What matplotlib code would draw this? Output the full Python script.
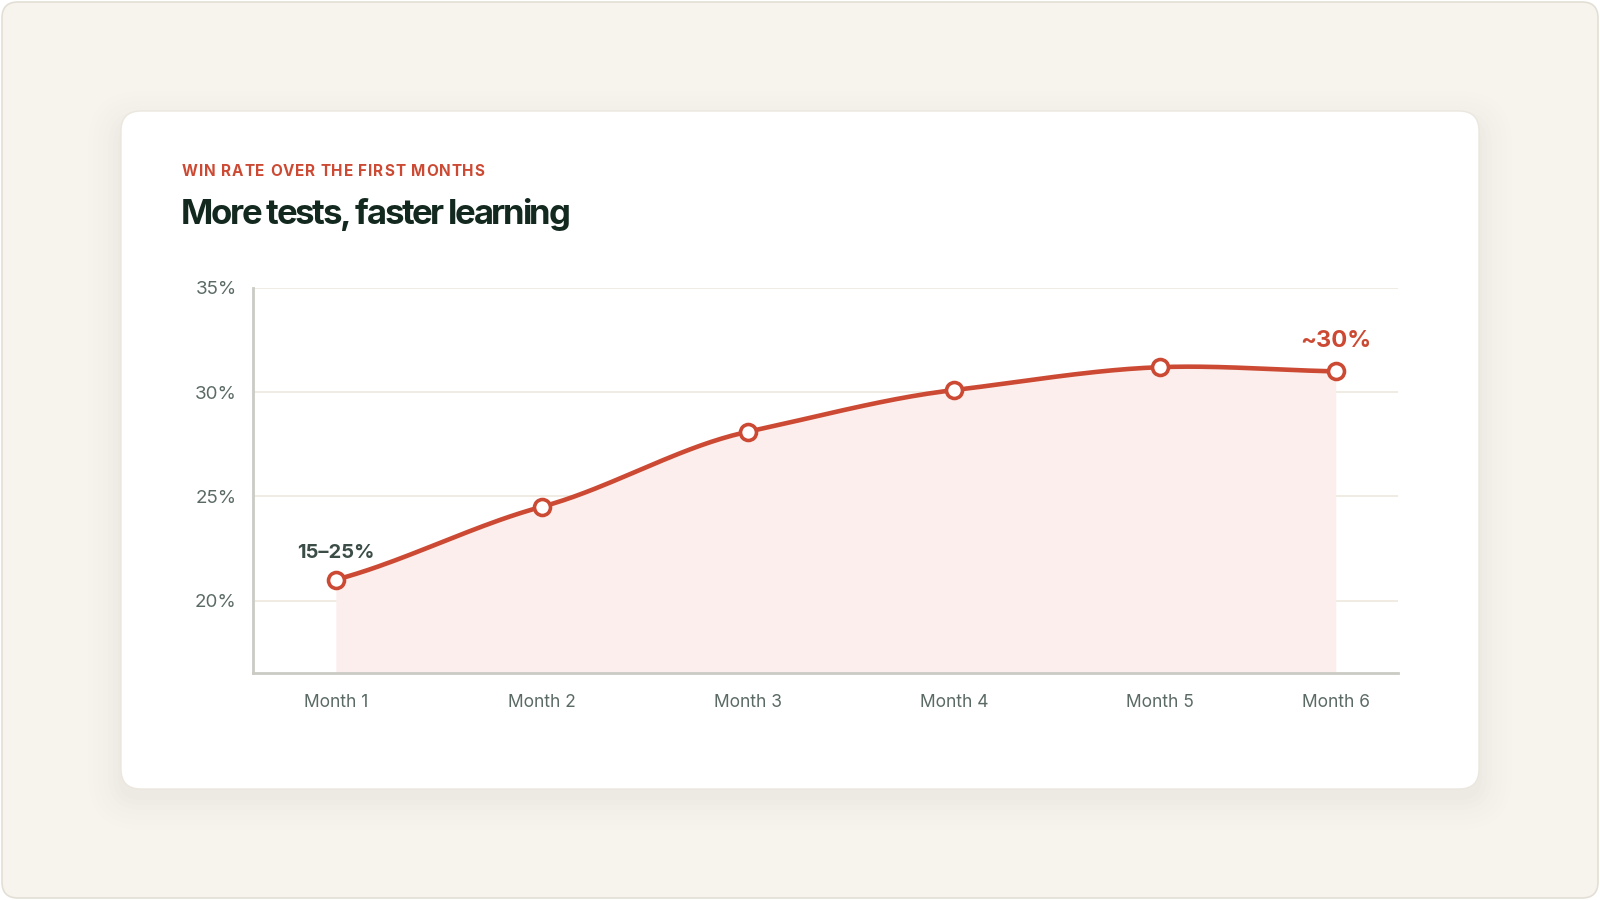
import numpy as np
import matplotlib.pyplot as plt
from matplotlib.patches import FancyBboxPatch

plt.rcParams['font.family'] = ['Inter', 'DejaVu Sans']

months = ["Month 1", "Month 2", "Month 3", "Month 4", "Month 5", "Month 6"]
win_rate = [21.0, 24.5, 28.1, 30.1, 31.2, 31.0]
y_ticks = [20, 25, 30, 35]
start_label = "15–25%"
end_label = "~30%"

RED = "#cc4a33"
DARK = "#13291f"
GREY = "#5b6a64"


def smooth_curve(x, y, c=0.75, n=40):
    # cardinal-style hermite: tangents are a damped average of neighbour slopes
    x = np.asarray(x, float)
    y = np.asarray(y, float)
    h = np.diff(x)
    k = len(x)
    m = np.zeros(k)
    m[0] = c * (y[1] - y[0]) / h[0]
    m[-1] = c * (y[-1] - y[-2]) / h[-1]
    for i in range(1, k - 1):
        m[i] = c * (y[i + 1] - y[i - 1]) / (x[i + 1] - x[i - 1])
    xs, ys = [], []
    t = np.linspace(0, 1, n)
    for i in range(k - 1):
        h00 = 2 * t**3 - 3 * t**2 + 1
        h10 = t**3 - 2 * t**2 + t
        h01 = -2 * t**3 + 3 * t**2
        h11 = t**3 - t**2
        xs.append(x[i] + t * h[i])
        ys.append(h00 * y[i] + h10 * h[i] * m[i] + h01 * y[i + 1] + h11 * h[i] * m[i + 1])
    return np.concatenate(xs), np.concatenate(ys)


def tracked_text(fig, x_px, y_px, s, track_px, **kw):
    # draw text char by char so letter spacing can be set (pixel coords)
    r = fig.canvas.get_renderer()
    sp = fig.text(0, 0, "a a", **kw)
    sp2 = fig.text(0, 0, "aa", **kw)
    space_w = sp.get_window_extent(r).width - sp2.get_window_extent(r).width
    sp.remove()
    sp2.remove()
    x = x_px
    for ch in s:
        t = fig.text(x / 1600, y_px / 900, ch, va="baseline", ha="left", **kw)
        w = space_w if ch == " " else t.get_window_extent(r).width
        x += w + track_px


def main():
    fig = plt.figure(figsize=(16, 9), dpi=100)
    fig.patch.set_facecolor("white")

    # page background with rounded frame
    fig.patches.append(FancyBboxPatch((0.02, 0.02), 15.96, 8.96,
                                      boxstyle="round,pad=0,rounding_size=0.16",
                                      transform=fig.dpi_scale_trans,
                                      facecolor="#f7f4ed", edgecolor="#e3dfd6",
                                      linewidth=1.2, zorder=-5))
    # soft card shadow
    for i, a in enumerate([0.009, 0.007, 0.006, 0.005, 0.004, 0.003, 0.002]):
        g = 0.03 + i * 0.05
        fig.patches.append(FancyBboxPatch((1.21 - g, 1.11 - g - 0.08), 13.58 + 2 * g, 6.78 + 2 * g - 0.05,
                                          boxstyle="round,pad=0,rounding_size=%f" % (0.2 + g),
                                          transform=fig.dpi_scale_trans,
                                          facecolor="#5a4a30", alpha=a, edgecolor="none", zorder=-4))
    fig.patches.append(FancyBboxPatch((1.21, 1.11), 13.58, 6.78,
                                      boxstyle="round,pad=0,rounding_size=0.2",
                                      transform=fig.dpi_scale_trans,
                                      facecolor="white", edgecolor="#ebe7df",
                                      linewidth=1, zorder=-3))

    tracked_text(fig, 182, 900 - 176, "WIN RATE OVER THE FIRST MONTHS", 0.9,
                 color=RED, fontsize=11, fontweight="bold")
    tracked_text(fig, 181, 900 - 224, "More tests, faster learning", -2.3,
                 color=DARK, fontsize=25, fontweight="bold")

    ax = fig.add_axes([0.158, 0.2517, 0.7156, 0.4283])
    ax.set_facecolor("none")
    ax.set_xlim(-0.403, 5.155)
    ax.set_ylim(16.5, 35)

    # layout: x positions of the month ticks (last one sits a bit closer)
    xpos = np.array([0, 1, 2, 3, 4, 4.854])

    cx, cy = smooth_curve(xpos, win_rate)
    ax.fill_between(cx, cy, 16.5, color="#fbeeec", linewidth=0, zorder=1)
    ax.plot(cx, cy, color=RED, linewidth=3.3, zorder=3, solid_capstyle="round")
    ax.plot(xpos, win_rate, linestyle="none", marker="o", markersize=11.5,
            markerfacecolor="white", markeredgecolor=RED, markeredgewidth=2.6, zorder=4)

    ax.annotate(start_label, (xpos[0], win_rate[0]), xytext=(0, 19.5), textcoords="offset points",
                ha="center", va="center", fontsize=14.5, fontweight="bold", color="#3b4d46")
    ax.annotate(end_label, (xpos[-1], win_rate[-1]), xytext=(0, 21.5), textcoords="offset points",
                ha="center", va="center", fontsize=17, fontweight="bold", color=RED)

    ax.set_yticks(y_ticks)
    ax.set_yticklabels([f"{v}%" for v in y_ticks])
    ax.set_xticks(xpos)
    ax.set_xticklabels(months)
    ax.tick_params(axis="both", length=0, labelcolor=GREY)
    ax.tick_params(axis="y", pad=11.5, labelsize=13.5)
    ax.tick_params(axis="x", pad=14.5, labelsize=12.5)

    ax.grid(axis="y", color="#eee9df", linewidth=1.2, zorder=0)
    ax.set_axisbelow(True)
    for s in ["top", "right"]:
        ax.spines[s].set_visible(False)
    for s in ["left", "bottom"]:
        ax.spines[s].set_color("#cbcbc4")
        ax.spines[s].set_linewidth(2)

    fig.savefig("out.png", dpi=100, facecolor=fig.get_facecolor())


if __name__ == "__main__":
    main()
